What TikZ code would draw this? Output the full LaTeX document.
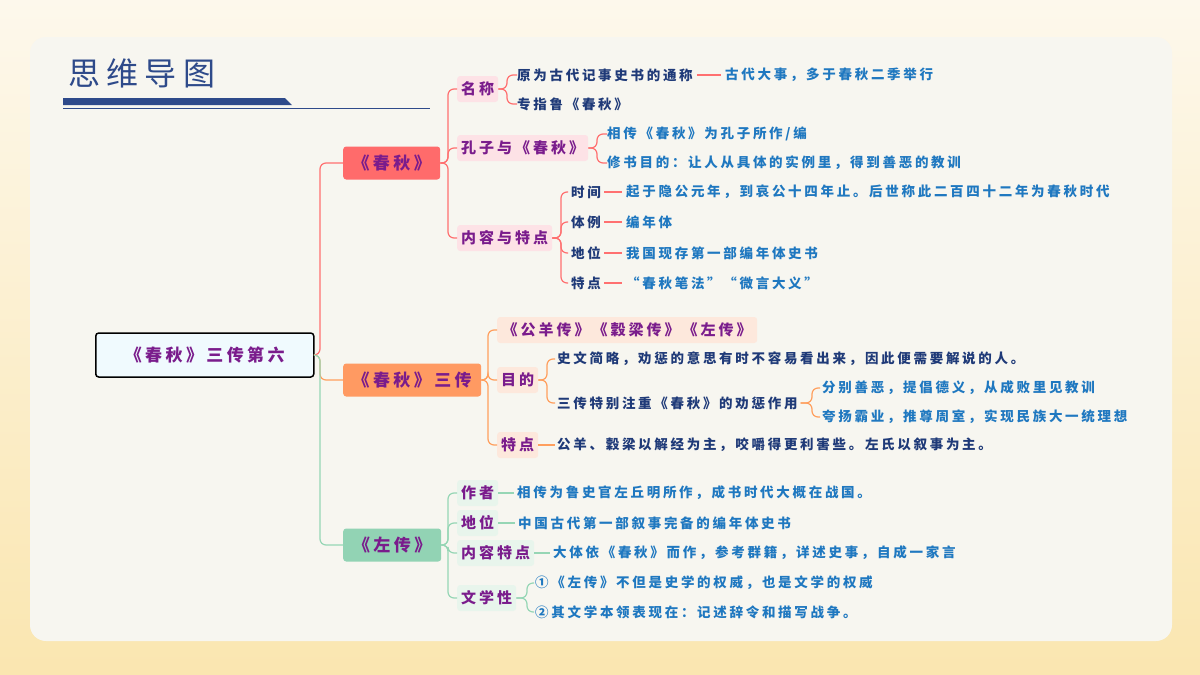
\documentclass[tikz,border=0pt]{standalone}
\usepackage{fontspec}
\setmainfont{Noto Sans CJK SC}[LetterSpace=20]
\usetikzlibrary{calc}
\definecolor{bgY}{HTML}{FAE6B0}
\definecolor{bgT}{HTML}{FDF8EC}
\definecolor{card}{HTML}{F7F6F0}
\definecolor{titleC}{HTML}{2E4A8A}
\definecolor{navy}{HTML}{1F3A78}
\definecolor{lblue}{HTML}{1F78C0}
\definecolor{purp}{HTML}{7A1C8C}
\definecolor{redC}{HTML}{FF6B6B}
\definecolor{orC}{HTML}{FF9A62}
\definecolor{grC}{HTML}{92D3B4}
\definecolor{redL}{HTML}{FF7070}
\definecolor{orL}{HTML}{FF9F5E}
\definecolor{grL}{HTML}{96D6B5}
\definecolor{pinkF}{HTML}{FDE2E6}
\definecolor{peachF}{HTML}{FDE8DC}
\definecolor{greenF}{HTML}{E8F5EC}
\tikzset{
 every node/.style={font=\fontsize{13.5}{15}\selectfont\bfseries, inner sep=0pt},
 br/.style={anchor=west, rounded corners=3pt, minimum height=33pt, inner xsep=6pt, text=purp, font=\fontsize{17}{19}\selectfont\bfseries},
 lab/.style={anchor=west, rounded corners=3pt, minimum height=26pt, inner xsep=4pt, text=purp, font=\fontsize{15}{17}\selectfont\bfseries},
 dk/.style={anchor=west, text=navy},
 lt/.style={anchor=west, text=lblue},
 cn/.style={line width=1.2pt, rounded corners=6pt},
}
\begin{document}
\begin{tikzpicture}[x=1pt,y=-1pt]
\useasboundingbox (0,0) rectangle (1200,675);
\shade[top color=bgT, bottom color=bgY] (0,0) rectangle (1200,675);
\fill[card, rounded corners=16pt] (30,37) rectangle (1172,641);
\node[anchor=west, text=titleC, font=\fontsize{32}{34}\selectfont] (title) at (68,73) {思维导图};
\fill[titleC] (63,98) -- (285,98) -- (292,105) -- (63,105) -- cycle;
\draw[titleC, line width=1pt] (63,108) -- (430,108);
% main
\node[anchor=west, draw=black, line width=1.5pt, fill=cyan!6, rounded corners=3pt, minimum width=218pt, minimum height=44pt, text=purp, font=\fontsize{17}{19}\selectfont\bfseries] (m) at (95,355) {《春秋》三传第六};
% branches
\node[br, fill=redC, minimum width=97pt] (b1) at (343,163) {《春秋》};
\node[br, fill=orC, minimum width=138pt] (b2) at (343,380) {《春秋》三传};
\node[br, fill=grC, minimum width=98pt] (b3) at (343,545) {《左传》};
\draw[cn, redL] (m.east) -- (320,355) |- (b1.west);
\draw[cn, orL] (m.east) -- (320,355) |- (b2.west);
\draw[cn, grL] (m.east) -- (320,355) |- (b3.west);
% branch 1
\node[lab, fill=pinkF] (a1) at (457,89) {名称};
\node[lab, fill=pinkF] (a2) at (457,148) {孔子与《春秋》};
\node[lab, fill=pinkF] (a3) at (457,238) {内容与特点};
\foreach \t in {a1,a2,a3}{\draw[cn, redL] (b1.east) -- (448,163) |- (\t.west);}
\node[dk] (a11) at (517,75) {原为古代记事史书的通称};
\node[lt] (a111) at (725,75) {古代大事，多于春秋二季举行};
\draw[redL, line width=1.2pt] ([xshift=4pt]a11.east) -- ([xshift=-4pt]a111.west);
\node[dk] (a12) at (517,104) {专指鲁《春秋》};
\foreach \t in {a11,a12}{\draw[cn, redL] (a1.east) -- (507,89) |- (\t.west);}
\node[lt] (a21) at (607,134) {相传《春秋》为孔子所作/编};
\node[lt] (a22) at (607,163) {修书目的：让人从具体的实例里，得到善恶的教训};
\foreach \t in {a21,a22}{\draw[cn, redL] (a2.east) -- (597,148) |- (\t.west);}
\node[dk] (c1) at (571,192) {时间};
\node[dk] (c2) at (571,222) {体例};
\node[dk] (c3) at (571,253) {地位};
\node[dk] (c4) at (571,283) {特点};
\foreach \t in {c1,c2,c3,c4}{\draw[cn, redL] (a3.east) -- (561,238) |- ([xshift=-3pt]\t.west);}
\node[lt] (d1) at (626,192) {起于隐公元年，到哀公十四年止。后世称此二百四十二年为春秋时代};
\node[lt] (d2) at (626,222) {编年体};
\node[lt] (d3) at (626,253) {我国现存第一部编年体史书};
\node[lt] (d4) at (626,283) {“春秋笔法”“微言大义”};
\foreach \i in {1,2,3,4}{\draw[redL, line width=1.2pt] ([xshift=3pt]c\i.east) -- ([xshift=-4pt]d\i.west);}
% branch 2
\node[lab, fill=peachF, minimum width=260pt] (e1) at (497,330) {《公羊传》《穀梁传》《左传》};
\node[lab, fill=peachF] (e2) at (497,380) {目的};
\node[lab, fill=peachF] (e3) at (497,445) {特点};
\foreach \t in {e1,e2,e3}{\draw[cn, orL] (b2.east) -- (488,380) |- (\t.west);}
\node[dk] (f1) at (557,359) {史文简略，劝惩的意思有时不容易看出来，因此便需要解说的人。};
\node[dk] (f2) at (557,403) {三传特别注重《春秋》的劝惩作用};
\foreach \t in {f1,f2}{\draw[cn, orL] (e2.east) -- (547,380) |- ([xshift=-2pt]\t.west);}
\node[lt] (g1) at (822,388) {分别善恶，提倡德义，从成败里见教训};
\node[lt] (g2) at (822,417) {夸扬霸业，推尊周室，实现民族大一统理想};
\foreach \t in {g1,g2}{\draw[cn, orL] ([xshift=3pt]f2.east) -- (812,403) |- ([xshift=-2pt]\t.west);}
\node[dk] (f3) at (557,445) {公羊、穀梁以解经为主，咬嚼得更利害些。左氏以叙事为主。};
\draw[orL, line width=1.2pt] (e3.east) -- ([xshift=-2pt]f3.west);
% branch 3
\node[lab, fill=greenF] (h1) at (457,493) {作者};
\node[lab, fill=greenF] (h2) at (457,523) {地位};
\node[lab, fill=greenF] (h3) at (457,553) {内容特点};
\node[lab, fill=greenF] (h4) at (457,598) {文学性};
\foreach \t in {h1,h2,h3,h4}{\draw[cn, grL] (b3.east) -- (448,545) |- (\t.west);}
\node[lt] (i1) at (517,493) {相传为鲁史官左丘明所作，成书时代大概在战国。};
\node[lt] (i2) at (518,523) {中国古代第一部叙事完备的编年体史书};
\node[lt] (i3) at (553,553) {大体依《春秋》而作，参考群籍，详述史事，自成一家言};
\foreach \i in {1,2,3}{\draw[grL, line width=1.2pt] (h\i.east) -- ([xshift=-3pt]i\i.west);}
\node[lt] (j1) at (535,583) {①《左传》不但是史学的权威，也是文学的权威};
\node[lt] (j2) at (535,612) {②其文学本领表现在：记述辞令和描写战争。};
\foreach \t in {j1,j2}{\draw[cn, grL] (h4.east) -- (527,598) |- ([xshift=-1pt]\t.west);}
\end{tikzpicture}
\end{document}
